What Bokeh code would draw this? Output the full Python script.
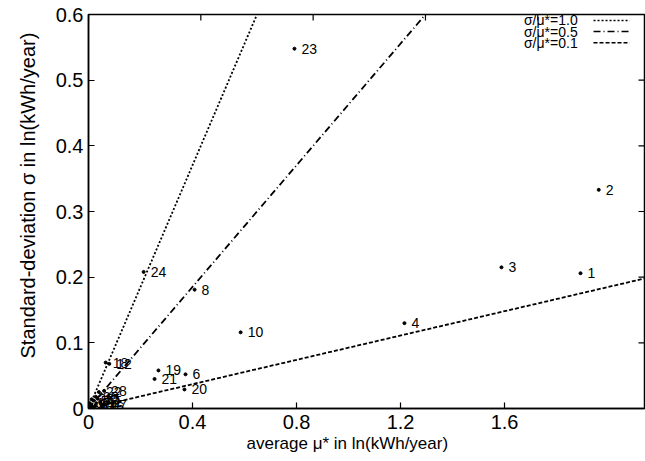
import math
from bokeh.plotting import figure
from bokeh.models import Range1d, FixedTicker, Label, ColumnDataSource, Title
from bokeh.core.properties import value
from bokeh.embed import file_html
from bokeh.resources import INLINE

# ---- data ----
point_ids = ["1", "2", "3", "4", "6", "8", "10", "12", "18", "19", "20", "21", "22", "23", "24", "28",
             "5", "7", "9", "11", "13", "14", "15", "16", "17", "25", "26", "27"]
mu_star = [1.892, 1.962, 1.588, 1.215, 0.373, 0.408, 0.585, 0.080, 0.066, 0.269, 0.369, 0.254, 0.040, 0.792, 0.212, 0.060,
           0.020, 0.030, 0.010, 0.045, 0.015, 0.025, 0.035, 0.050, 0.005, 0.028, 0.012, 0.060]
sigma = [0.206, 0.333, 0.215, 0.130, 0.052, 0.181, 0.116, 0.068, 0.070, 0.058, 0.029, 0.045, 0.025, 0.548, 0.208, 0.027,
         0.012, 0.008, 0.005, 0.010, 0.002, 0.004, 0.015, 0.003, 0.008, 0.018, 0.014, 0.006]

ratio_labels = ["σ/μ*=1.0", "σ/μ*=0.5", "σ/μ*=0.1"]
ratios = [1.0, 0.5, 0.1]
ratio_dashes = ["2 2", "7 3 1 3", "4 2"]

x_ticks = [0, 0.4, 0.8, 1.2, 1.6]
x_tick_labels = ["0", "0.4", "0.8", "1.2", "1.6"]
y_ticks = [0, 0.1, 0.2, 0.3, 0.4, 0.5, 0.6]
y_tick_labels = ["0", "0.1", "0.2", "0.3", "0.4", "0.5", "0.6"]

FONT = "Liberation Sans"
X_MAX = 2.138      # bottom-axis scale
X2_MAX = 1.98      # top-axis scale (reference lines)

p = figure(width=645, height=461, output_backend="svg", toolbar_location=None,
           x_range=Range1d(0, X_MAX), y_range=Range1d(0, 0.6),
           min_border_left=88, min_border_right=1, min_border_top=14, min_border_bottom=53)
p.extra_x_ranges = {"top": Range1d(0, X2_MAX)}
p.grid.visible = False
p.outline_line_color = "black"
p.outline_line_width = 1.5
p.background_fill_color = "white"
p.border_fill_color = "white"

for ax, ticks, labels, standoff in ((p.xaxis[0], x_ticks, x_tick_labels, 6),
                                    (p.yaxis[0], y_ticks, y_tick_labels, 5)):
    ax.ticker = FixedTicker(ticks=ticks)
    ax.major_label_overrides = {t: l for t, l in zip(ticks, labels)}
    ax.axis_line_color = "black"
    ax.axis_line_width = 1.5
    ax.major_tick_in = 6
    ax.major_tick_out = 0
    ax.major_tick_line_width = 1.2
    ax.minor_tick_line_color = None
    ax.major_label_text_font = FONT
    ax.major_label_text_font_size = "20px"
    ax.major_label_text_color = "black"
    ax.major_label_standoff = standoff

# mirrored ticks on the right and top edges
p.ray(x=[X_MAX] * len(y_ticks), y=y_ticks, length=6, length_units="screen",
      angle=math.pi, line_color="black", line_width=1.2)
p.ray(x=x_ticks, y=[0.6] * len(x_ticks), length=6, length_units="screen",
      angle=-math.pi / 2, line_color="black", line_width=1.2, x_range_name="top")

# reference lines sigma = r * mu (drawn on the top-axis scale)
for r, dash in zip(ratios, ratio_dashes):
    p.line([0, X2_MAX], [0, r * X2_MAX], x_range_name="top", line_color="black",
           line_width=1.8, line_dash=dash)

src = ColumnDataSource(dict(x=mu_star, y=sigma, t=point_ids))
p.scatter("x", "y", source=src, size=3, color="black")
p.text("x", "y", text="t", source=src, x_offset=7, text_baseline="middle",
       text_font=value(FONT), text_font_size="14px", text_color="black")

# legend: label then sample line, top right
for i, (lab, dash) in enumerate(zip(ratio_labels, ratio_dashes)):
    yy = 0.5910 - i * 0.0170
    p.add_layout(Label(x=1.881, y=yy, text=lab, text_align="right", text_baseline="middle",
                       text_font=FONT, text_font_size="14px", text_color="black"))
    p.segment(x0=[1.942], y0=[yy], x1=[2.081], y1=[yy], line_color="black",
              line_width=1.5, line_dash=dash)

p.add_layout(Title(text="average μ* in ln(kWh/year)", align="left", offset=158, standoff=0,
                   text_font=FONT, text_font_size="17px", text_font_style="normal",
                   text_color="black"), "below")
p.add_layout(Title(text="Standard-deviation σ in ln(kWh/year)", align="left", offset=50, standoff=28,
                   text_font=FONT, text_font_size="20px", text_font_style="normal",
                   text_color="black"), "left")

open("out.html", "w").write(file_html(p, INLINE))
